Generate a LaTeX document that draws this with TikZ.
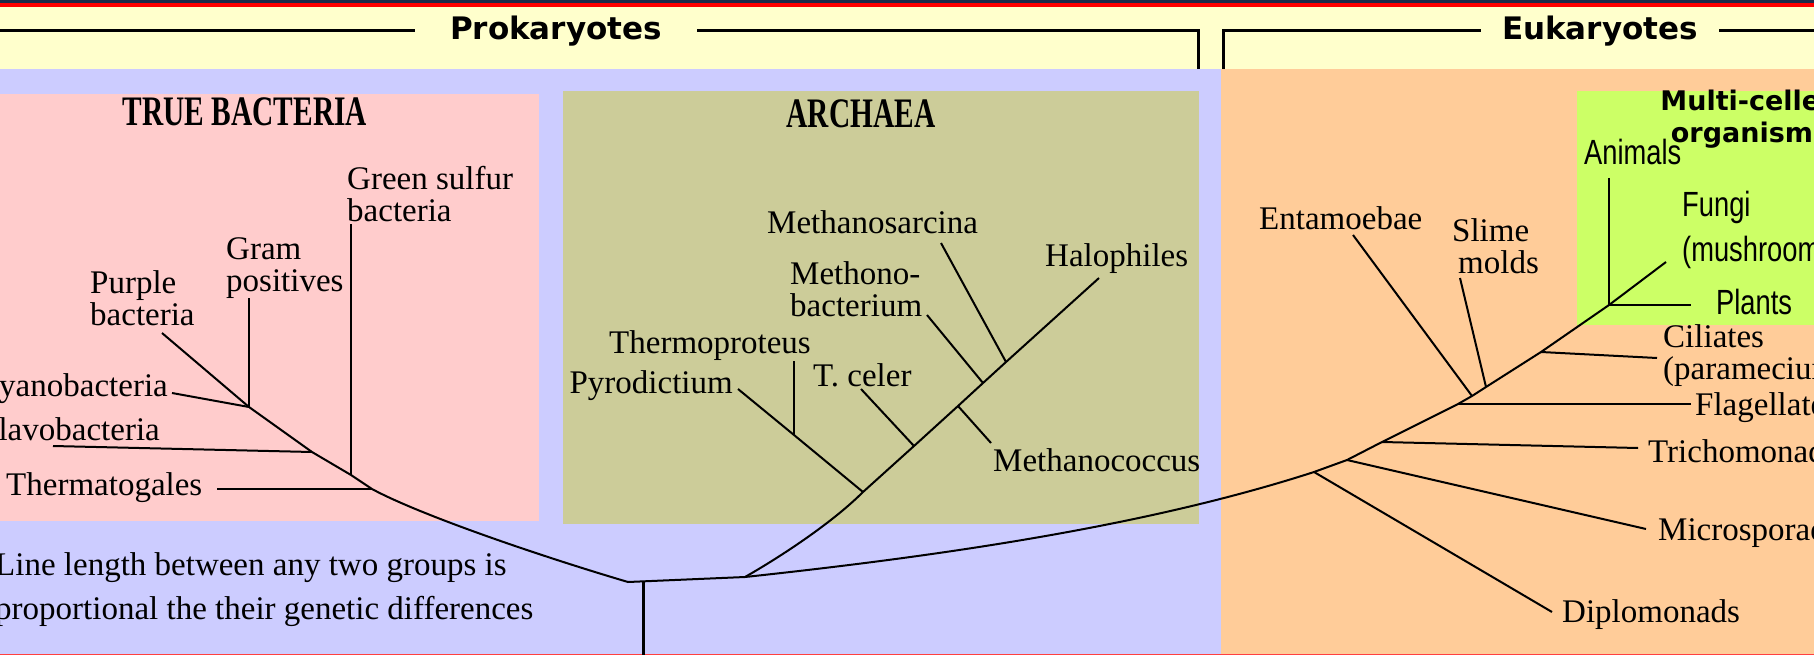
\documentclass[tikz,border=0pt]{standalone}
\usepackage{fontspec}
\setmainfont{Liberation Serif}
\newfontfamily\hdfont{DejaVu Sans}
\newfontfamily\ttlfont{Liberation Serif}[FakeStretch=0.7]
\newfontfamily\lblsans{Liberation Sans}[FakeStretch=0.78]
\definecolor{topnavy}{HTML}{1E2A4A}
\definecolor{topred}{HTML}{FF0000}
\definecolor{bandyellow}{HTML}{FFFFCC}
\definecolor{prolav}{HTML}{CCCCFF}
\definecolor{bactpink}{HTML}{FFCCCC}
\definecolor{archolive}{HTML}{CCCC99}
\definecolor{eukpeach}{HTML}{FFCC99}
\definecolor{multigreen}{HTML}{CCFF66}
\tikzset{
  lbl/.style={font=\fontsize{33}{32}\selectfont, inner sep=0pt, align=left},
  ttl/.style={font=\ttlfont\bfseries\fontsize{42}{48}\selectfont, inner sep=0pt},
  hdr/.style={font=\hdfont\bfseries\fontsize{31}{36}\selectfont, inner ysep=0pt},
  sns/.style={font=\lblsans\fontsize{35}{45}\selectfont, inner sep=0pt, align=left},
  br/.style={line width=2pt},
  brk/.style={line width=3pt},
}
\begin{document}
\begin{tikzpicture}[x=1pt,y=-1pt]
	\useasboundingbox (0,0) rectangle (1814,655);
	% backgrounds
	\fill[topnavy] (0,0) rectangle (1814,3.5);
	\fill[topred] (0,3.5) rectangle (1814,7);
	\fill[bandyellow] (0,7) rectangle (1814,69);
	\fill[prolav] (0,69) rectangle (1221,655);
	\fill[eukpeach] (1221,69) rectangle (1814,655);
	\fill[bactpink] (0,94) rectangle (539,521);
	\fill[archolive] (563,91) rectangle (1199,524);
	\fill[multigreen] (1577,91) rectangle (1814,325);
	\draw[red!75, line width=1.5pt] (0,654.25) -- (1814,654.25);

	% headers
	\node[hdr, inner xsep=35pt] (prok) at (556,31) {Prokaryotes};
	\node[hdr, inner xsep=21pt] (euk) at (1600,31) {Eukaryotes};
	\draw[brk] (0,31) -- (prok.west);
	\draw[brk] (prok.east) -- (1198,31) -- (1198,69);
	\draw[brk] (1223,69) -- (1223,31) -- (euk.west);
	\draw[brk] (euk.east) -- (1814,31);

	\node[ttl] (tb) at (245,112) {TRUE BACTERIA};
	\node[ttl] (ar) at (861,114) {ARCHAEA};
	\node[font=\hdfont\bfseries\fontsize{27}{32}\selectfont, align=center, inner sep=0pt] (mco) at (1750,119) {Multi-celled\\organisms};

	% root and true bacteria
	\coordinate (tPur) at (162,333);
	\coordinate (jGP) at (249,407);
	\coordinate (tGP) at (249,298);
	\coordinate (tCy) at (172,393);
	\coordinate (jFl) at (312,452);
	\coordinate (tFl) at (53,446);
	\coordinate (jGS) at (351,475);
	\coordinate (tGS) at (351,224);
	\coordinate (jTh) at (372,489);
	\coordinate (tTh) at (217,489);
	\coordinate (rL) at (628,582);
	\coordinate (rC) at (643,582);
	\coordinate (rB) at (643,655);
	\coordinate (jAE) at (745,577);
	\draw[br] (tPur) -- (jGP) -- (jFl) -- (jGS) -- (jTh) .. controls (420,515) and (540,556) .. (rL) -- (jAE);
	\draw[br] (tGP) -- (jGP);
	\draw[br] (tCy) -- (jGP);
	\draw[br] (tFl) -- (jFl);
	\draw[br] (tGS) -- (jGS);
	\draw[br] (tTh) -- (jTh);
	\draw[brk] (rC) -- (rB);

	\node[lbl, anchor=west] (gs) at (347,194) {Green sulfur\\bacteria};
	\node[lbl, anchor=west] (gp) at (226,268) {Gram\\positives};
	\node[lbl, anchor=west] (pb) at (90,298) {Purple\\bacteria};
	\node[lbl, anchor=east] (cy) at (168,389) {Cyanobacteria};
	\node[lbl, anchor=east] (fl) at (160,429) {Flavobacteria};
	\node[lbl, anchor=west] (th) at (6,488) {Thermatogales};
	\node[lbl, anchor=west, font=\fontsize{33}{44}\selectfont] (note) at (-5,590) {Line length between any two groups is\\proportional the their genetic differences};

	% archaea
	\coordinate (jPy) at (863,492);
	\coordinate (tHa) at (1099,278);
	\coordinate (jTc) at (914,446);
	\coordinate (jMc) at (958,406);
	\coordinate (jMb) at (983,383);
	\coordinate (jMs) at (1006,362);
	\coordinate (tPy) at (738,389);
	\coordinate (jTp) at (794,435);
	\coordinate (tTp) at (794,361);
	\coordinate (tTc) at (861,389);
	\coordinate (tMc) at (991,443);
	\coordinate (tMb) at (927,315);
	\coordinate (tMs) at (941,243);
	\draw[br] (jAE) .. controls (775,560) and (830,525) .. (jPy) -- (jTc) -- (jMc) -- (jMb) -- (jMs) -- (tHa);
	\draw[br] (tPy) -- (jTp) -- (jPy);
	\draw[br] (tTp) -- (jTp);
	\draw[br] (tTc) -- (jTc);
	\draw[br] (tMc) -- (jMc);
	\draw[br] (tMb) -- (jMb);
	\draw[br] (tMs) -- (jMs);

	\node[lbl, anchor=east] (py) at (733,386) {Pyrodictium};
	\node[lbl] (tp) at (710,346) {Thermoproteus};
	\node[lbl, anchor=west] (tc) at (813,375) {T. celer};
	\node[lbl, anchor=west] (mc) at (993,460) {Methanococcus};
	\node[lbl, anchor=west] (mb) at (790,289) {Methono-\\bacterium};
	\node[lbl, anchor=west] (ms) at (767,222) {Methanosarcina};
	\node[lbl, anchor=west] (ha) at (1045,259) {Halophiles};

	% eukaryotes
	\coordinate (jDi) at (1314,472);
	\coordinate (jMi) at (1347,460);
	\coordinate (jTr) at (1382,442);
	\coordinate (jFg) at (1458,404);
	\coordinate (jEn) at (1472,396);
	\coordinate (jSm) at (1486,387);
	\coordinate (jCi) at (1541,352);
	\coordinate (jPA) at (1609,305);
	\coordinate (tDi) at (1552,612);
	\coordinate (tMi) at (1646,529);
	\coordinate (tTr) at (1638,448);
	\coordinate (tFg) at (1691,404);
	\coordinate (tEn) at (1353,235);
	\coordinate (tSm) at (1460,278);
	\coordinate (tCi) at (1657,358);
	\coordinate (tAn) at (1609,178);
	\coordinate (tFu) at (1666,262);
	\coordinate (tPl) at (1691,305);
	\draw[br] (jAE) .. controls (950,555) and (1150,525) .. (jDi) -- (jMi) -- (jTr) -- (jFg) -- (jEn) -- (jSm) -- (jCi) -- (jPA);
	\draw[br] (tDi) -- (jDi);
	\draw[br] (tMi) -- (jMi);
	\draw[br] (tTr) -- (jTr);
	\draw[br] (tFg) -- (jFg);
	\draw[br] (tEn) -- (jEn);
	\draw[br] (tSm) -- (jSm);
	\draw[br] (tCi) -- (jCi);
	\draw[br] (tAn) -- (jPA) -- (tPl);
	\draw[br] (tFu) -- (jPA);

	\node[lbl, anchor=west] (en) at (1259,218) {Entamoebae};
	\node[lbl, anchor=west] (sm) at (1452,246) {Slime\\\hspace{6pt}molds};
	\node[lbl, anchor=west] (ci) at (1663,356) {Ciliates\\(paramecium)};
	\node[lbl, anchor=west] (fg) at (1695,408) {Flagellates};
	\node[lbl, anchor=west] (tr) at (1648,451) {Trichomonads};
	\node[lbl, anchor=west] (mi) at (1658,533) {Microsporadia};
	\node[lbl, anchor=west] (di) at (1562,615) {Diplomonads};
	\node[sns, anchor=west] (an) at (1584,152) {Animals};
	\node[sns, anchor=west] (fu) at (1682,230) {Fungi\\(mushrooms)};
	\node[sns, anchor=west] (pl) at (1716,302) {Plants};
\end{tikzpicture}
\end{document}
